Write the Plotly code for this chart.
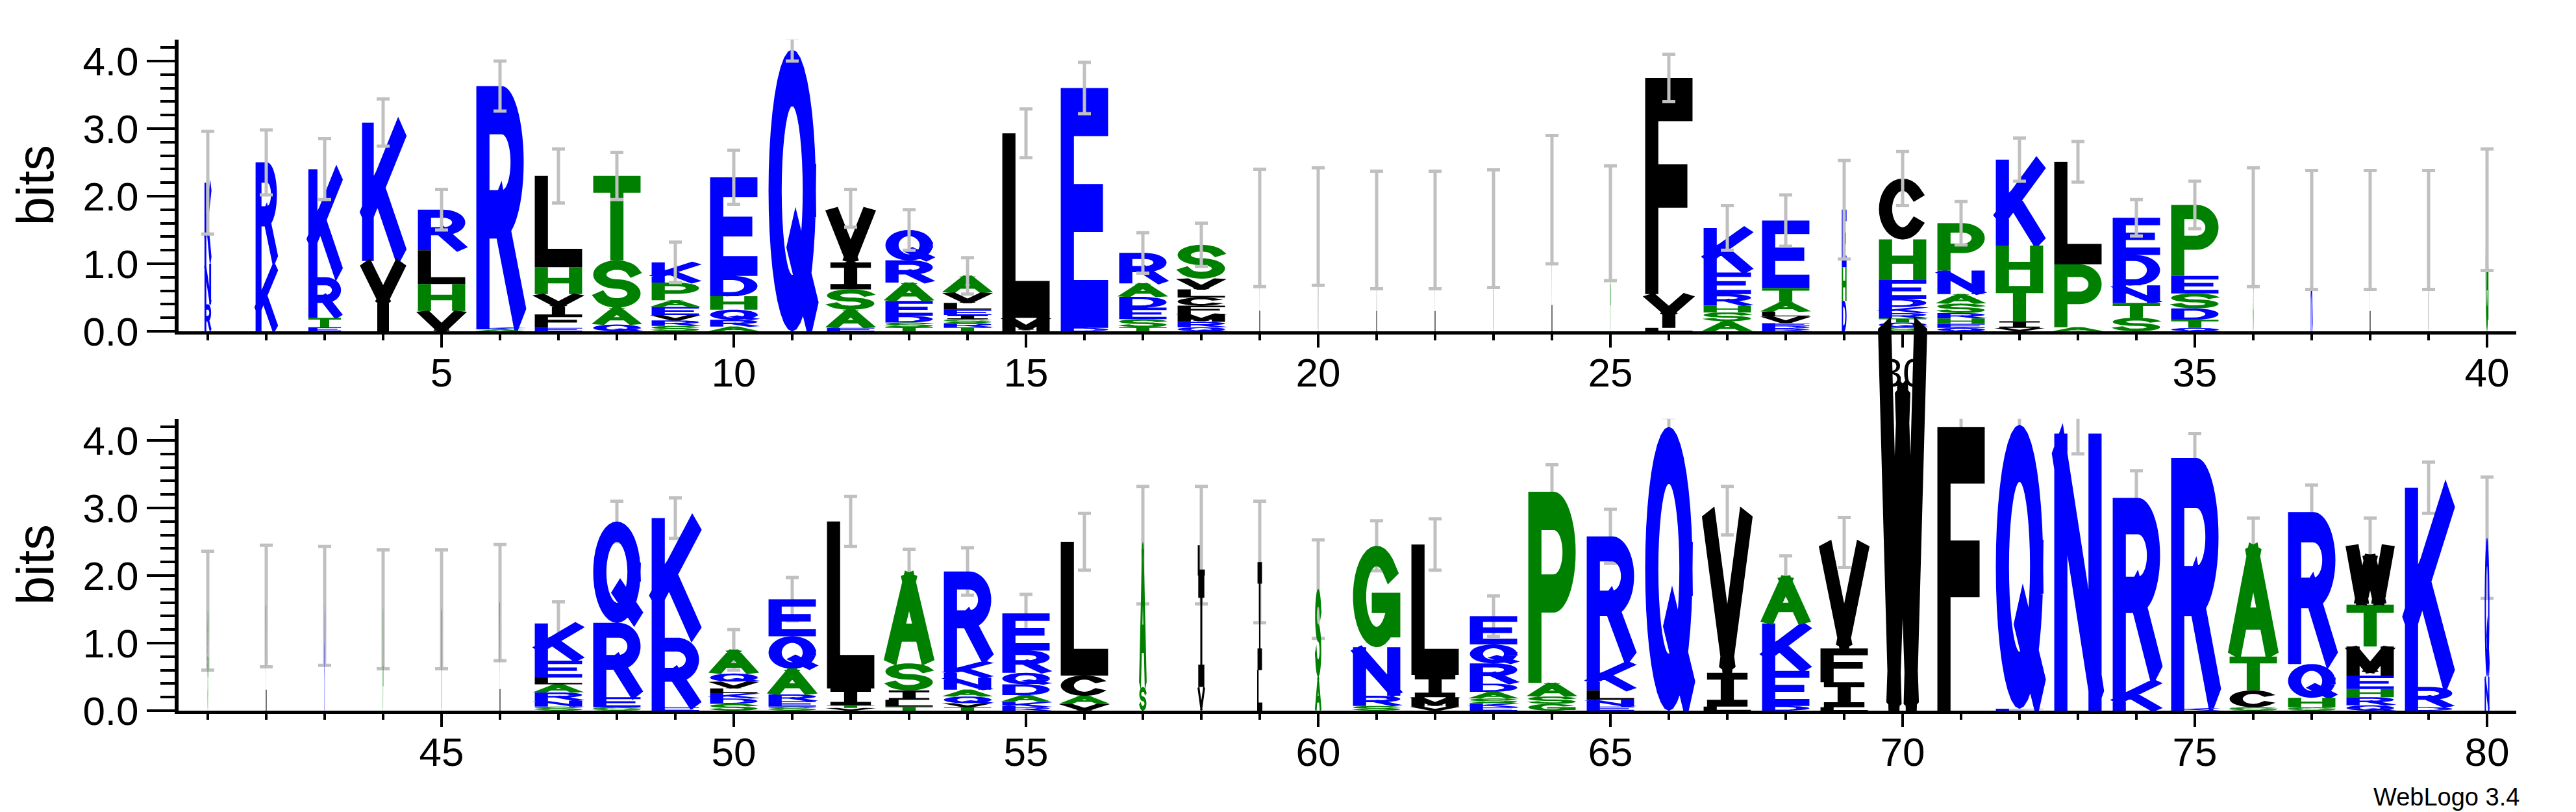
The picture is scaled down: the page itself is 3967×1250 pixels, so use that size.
import math
import plotly.graph_objects as go

# ---- data: one entry per position 1..80, letters listed bottom -> top ----
LETTERS = [
    "RNK", "KR", "ETRK", "YK", "VHLR", "AKR", "EFYHL", "QAST", "SRVEAPK", "ARQHDE",
    "Q", "EASIV", "TSDEARQ", "TRSIELVA", "ML", "DE", "TSEDAR", "QRMFCLVS", "L", "V",
    "I", "L", "V", "L", "A", "LYF", "ASHREK", "RDEVLATE", "DHE", "SQTRKDEHC",
    "QEHRSANP", "VITHK", "APL", "STNDE", "QTDSEP", "S", "K", "L", "V", "G",
    "G", "L", "K", "A", "V", "L", "SNRALEK", "SERQ", "ERK", "SDKLVQA",
    "SERAQE", "VTIL", "TLISA", "TVQANKR", "RKADQRE", "VACL", "SA", "VIL", "LI", "AS",
    "SRNG", "VMIL", "EKSADRQE", "GSAP", "ENLKR", "Q", "LIV", "DEKA", "LIFV", "W",
    "F", "EQ", "N", "KR", "KR", "SCTA", "SHQR", "QRHEMTW", "DRK", "NQ",
]
HEIGHTS = [
    [0.4, 0.6, 1.2], [1.0, 1.5], [0.06, 0.14, 0.6, 1.6], [1.04, 2.05], [0.3, 0.4, 0.5, 0.6],
    [0.03, 0.03, 3.57], [0.05, 0.2, 0.3, 0.4, 1.35], [0.1, 0.25, 0.7, 1.25],
    [0.08, 0.08, 0.08, 0.12, 0.1, 0.26, 0.3], [0.07, 0.1, 0.15, 0.2, 0.3, 1.46],
    [4.17], [0.05, 0.27, 0.3, 0.4, 0.8], [0.06, 0.07, 0.1, 0.22, 0.27, 0.33, 0.45],
    [0.06, 0.06, 0.06, 0.06, 0.08, 0.1, 0.15, 0.25], [0.2, 2.73], [0.05, 3.55],
    [0.06, 0.12, 0.17, 0.16, 0.2, 0.45], [0.06, 0.08, 0.12, 0.12, 0.12, 0.12, 0.16, 0.5],
    [1.53], [1.55], [1.5], [1.5], [1.52], [1.95], [1.6],
    [0.05, 0.5, 3.2], [0.15, 0.13, 0.1, 0.17, 0.32, 0.66],
    [0.04, 0.04, 0.04, 0.1, 0.07, 0.15, 0.2, 1.0], [0.45, 0.5, 0.85],
    [0.06, 0.07, 0.06, 0.08, 0.09, 0.12, 0.28, 0.6, 0.9],
    [0.05, 0.06, 0.08, 0.08, 0.14, 0.14, 0.35, 0.7], [0.05, 0.1, 0.52, 0.6, 1.27],
    [0.06, 0.93, 1.52], [0.2, 0.22, 0.26, 0.45, 0.55], [0.05, 0.12, 0.17, 0.22, 0.26, 1.05],
    [1.54], [1.5], [1.5], [1.5], [1.8],
    [1.48], [1.55], [1.55], [1.5], [1.5], [1.6],
    [0.06, 0.09, 0.12, 0.12, 0.1, 0.25, 0.55], [0.05, 0.15, 1.1, 1.5], [0.05, 1.03, 1.77],
    [0.1, 0.08, 0.08, 0.07, 0.1, 0.12, 0.35], [0.06, 0.08, 0.1, 0.38, 0.48, 0.55],
    [0.04, 0.04, 0.25, 2.47], [0.06, 0.1, 0.14, 0.4, 1.34], [0.05, 0.06, 0.1, 0.1, 0.18, 0.24, 1.33],
    [0.05, 0.08, 0.1, 0.16, 0.17, 0.33, 0.55], [0.1, 0.12, 0.3, 1.98], [0.35, 2.1],
    [0.35, 1.65, 0.45], [0.6, 1.6], [0.5, 1.3],
    [0.07, 0.15, 0.72, 1.5], [0.06, 0.14, 0.33, 1.93], [0.05, 0.06, 0.07, 0.1, 0.12, 0.3, 0.28, 0.42],
    [0.1, 0.11, 0.2, 2.83], [0.06, 0.1, 0.14, 0.42, 1.86], [4.2], [0.06, 0.5, 2.4],
    [0.07, 0.52, 0.7, 0.7], [0.05, 0.37, 0.5, 1.57], [5.75],
    [4.2], [0.03, 4.2], [4.1], [0.45, 2.7], [0.04, 3.7], [0.05, 0.25, 0.5, 1.65],
    [0.05, 0.14, 0.5, 2.25], [0.08, 0.12, 0.12, 0.2, 0.43, 0.62, 0.88], [0.05, 0.3, 2.95], [0.5, 2.06],
]
# relative stack widths (fraction of the full letter width)
WIDTHS = [
    0.14, 0.45, 0.69, 0.89, 1, 1, 1, 1, 1, 1,
    1, 1, 1, 1, 1, 1, 1, 1, 0.015, 0.015,
    0.015, 0.015, 0.015, 0.015, 0.015, 1, 1, 1, 0.1, 1,
    1, 1, 1, 1, 1, 0.015, 0.04, 0.015, 0.015, 0.06,
    0.015, 0.015, 0.015, 0.015, 0.015, 0.015, 1, 1, 1, 1,
    1, 1, 1, 1, 1, 1, 0.15, 0.15, 0.11, 0.13,
    1, 1, 1, 1, 1, 1, 1, 1, 1, 1,
    1, 1, 1, 1, 1, 1, 1, 1, 1, 0.1,
]
ERRORS = [
    0.76, 0.48, 0.45, 0.35, 0.3, 0.37, 0.4, 0.35, 0.3, 0.4,
    0.17, 0.28, 0.3, 0.27, 0.36, 0.38, 0.3, 0.32, 0.87, 0.87,
    0.87, 0.87, 0.87, 0.95, 0.85, 0.35, 0.33, 0.38, 0.73, 0.4,
    0.32, 0.32, 0.3, 0.27, 0.35, 0.88, 0.88, 0.88, 0.88, 0.9,
    0.88, 0.9, 0.88, 0.88, 0.88, 0.86, 0.32, 0.3, 0.3, 0.3,
    0.32, 0.37, 0.35, 0.35, 0.28, 0.42, 0.87, 0.87, 0.9, 0.73,
    0.37, 0.38, 0.3, 0.4, 0.4, 0.14, 0.36, 0.3, 0.37, 0.18,
    0.2, 0.15, 0.3, 0.4, 0.36, 0.4, 0.4, 0.4, 0.38, 0.9,
]
ERR_MID = {70: 4.19}  # error bar centre where it is not the stack top

COLORS = {}
for c in "RKDENQ":
    COLORS[c] = "#0000ff"
for c in "SGHTAP":
    COLORS[c] = "#008000"
for c in "YVMCLFIW":
    COLORS[c] = "#000000"


# ---- simple stroke font, centre lines in a unit box ----
def arc(cx, cy, rx, ry, a0, a1, n=28):
    return [(cx + rx * math.cos(math.radians(a0 + (a1 - a0) * i / n)),
             cy + ry * math.sin(math.radians(a0 + (a1 - a0) * i / n))) for i in range(n + 1)]


GLYPHS = {
    "A": [[(0, 0), (0.5, 1), (1, 0)], [(0.22, 0.3), (0.78, 0.3)]],
    "C": [arc(0.5, 0.5, 0.5, 0.5, 40, 320)],
    "D": [[(0.45, 0), (0, 0), (0, 1), (0.45, 1)] + arc(0.45, 0.5, 0.55, 0.5, 90, -90)],
    "E": [[(1, 1), (0, 1), (0, 0), (1, 0)], [(0, 0.5), (0.85, 0.5)]],
    "F": [[(1, 1), (0, 1), (0, 0)], [(0, 0.5), (0.85, 0.5)]],
    "G": [arc(0.5, 0.5, 0.5, 0.5, 40, 330), [(0.55, 0.42), (1, 0.42), (1, 0.12)]],
    "H": [[(0, 0), (0, 1)], [(1, 0), (1, 1)], [(0, 0.5), (1, 0.5)]],
    "I": [[(0.5, 0), (0.5, 1)], [(0.1, 1), (0.9, 1)], [(0.1, 0), (0.9, 0)]],
    "K": [[(0, 0), (0, 1)], [(1, 1), (0, 0.32)], [(0.32, 0.55), (1, 0)]],
    "L": [[(0, 1), (0, 0), (1, 0)]],
    "M": [[(0, 0), (0, 1), (0.5, 0.12), (1, 1), (1, 0)]],
    "N": [[(0, 0), (0, 1), (1, 0), (1, 1)]],
    "P": [[(0, 0), (0, 1), (0.55, 1)] + arc(0.55, 0.73, 0.45, 0.27, 90, -90) + [(0, 0.46)]],
    "Q": [arc(0.5, 0.5, 0.5, 0.5, 0, 360, 40), [(0.6, 0.25), (1, 0)]],
    "R": [[(0, 0), (0, 1), (0.55, 1)] + arc(0.55, 0.73, 0.45, 0.27, 90, -90) + [(0, 0.46)],
          [(0.5, 0.46), (1, 0)]],
    "S": [arc(0.5, 0.75, 0.5, 0.25, 20, 270) + arc(0.5, 0.25, 0.5, 0.25, 90, -160)],
    "T": [[(0, 1), (1, 1)], [(0.5, 1), (0.5, 0)]],
    "V": [[(0, 1), (0.5, 0), (1, 1)]],
    "W": [[(0, 1), (0.25, 0), (0.5, 0.8), (0.75, 0), (1, 1)]],
    "Y": [[(0, 1), (0.5, 0.45), (1, 1)], [(0.5, 0.45), (0.5, 0)]],
}
GW, GT = 0.72, 0.2  # design width / stroke thickness (height = 1)
FULL = 0.81         # full letter width in position units


def glyph_polys(ch):
    m = GT / 2
    e = GT / 2
    polys = []
    for line in GLYPHS[ch]:
        pts = [(m + u * (GW - 2 * m), m + v * (1 - 2 * m)) for u, v in line]
        pts = [p for i, p in enumerate(pts) if i == 0 or
               abs(p[0] - pts[i - 1][0]) + abs(p[1] - pts[i - 1][1]) > 1e-9]
        dirs = []
        for a, b in zip(pts[:-1], pts[1:]):
            L = math.hypot(b[0] - a[0], b[1] - a[1])
            dirs.append(((b[0] - a[0]) / L, (b[1] - a[1]) / L))
        ext = [e]
        for d1, d2 in zip(dirs[:-1], dirs[1:]):
            cosang = max(-1, min(1, d1[0] * d2[0] + d1[1] * d2[1]))
            ext.append(min(e, e * math.tan(math.acos(cosang) / 2)))
        ext.append(e)
        for i, (a, b) in enumerate(zip(pts[:-1], pts[1:])):
            dx, dy = dirs[i]
            nx, ny = -dy * e, dx * e
            a2 = (a[0] - dx * ext[i], a[1] - dy * ext[i])
            b2 = (b[0] + dx * ext[i + 1], b[1] + dy * ext[i + 1])
            polys.append([(a2[0] - nx, a2[1] - ny), (b2[0] - nx, b2[1] - ny),
                          (b2[0] + nx, b2[1] + ny), (a2[0] + nx, a2[1] + ny)])
    return polys


# ---- figure geometry (pixels) ----
W_PX, H_PX = 3967, 1250
ML, MR, MT, MB = 267, 100, 40, 164
PLOT_H = H_PX - MT - MB
PX_PER_BIT = 104.0
YMAX = 4.32
TOP_BASE = 502  # pixel row of top baseline


def frac(y_px):
    return (H_PX - MB - y_px) / PLOT_H


top_dom = [frac(TOP_BASE), frac(TOP_BASE - YMAX * PX_PER_BIT)]
bot_dom = [0, frac(H_PX - MB - YMAX * PX_PER_BIT)]
let_dom = [0, frac(470)]
let_max = (H_PX - MB - 470) / PX_PER_BIT

fig = go.Figure()
for panel, (xa, ya, ea) in enumerate([("x", "y", "y"), ("x2", "y3", "y2")]):
    xs = {c: [] for c in ("#0000ff", "#008000", "#000000")}
    ys = {c: [] for c in xs}
    ex, ey, ee = [], [], []
    for i in range(panel * 40, panel * 40 + 40):
        pos = i + 1
        wd = FULL * WIDTHS[i]
        y0 = 0.0
        for ch, h in zip(LETTERS[i], HEIGHTS[i]):
            col = COLORS[ch]
            for poly in glyph_polys(ch):
                for (u, v) in poly:
                    xs[col].append(pos + (u / GW - 0.5) * wd)
                    ys[col].append(y0 + v * h)
                xs[col].append(None)
                ys[col].append(None)
            y0 += h
        ex.append(pos)
        ey.append(ERR_MID.get(pos, y0))
        ee.append(ERRORS[i])
    for col in xs:
        fig.add_trace(go.Scatter(x=xs[col], y=ys[col], xaxis=xa, yaxis=ya, mode="lines",
                                 fill="toself", fillcolor=col, line=dict(width=0),
                                 hoverinfo="skip", showlegend=False))
    fig.add_trace(go.Scatter(x=ex, y=ey, xaxis=xa, yaxis=ea, mode="markers",
                             marker=dict(size=1, opacity=0),
                             error_y=dict(type="data", array=ee, color="#c0c0c0",
                                          thickness=5, width=10),
                             hoverinfo="skip", showlegend=False))

tickfont = dict(family="Liberation Sans, Arial", size=62, color="black")
xcommon = dict(showline=True, linewidth=5, linecolor="black", ticks="outside",
               ticklen=20, tickwidth=4, tickcolor="black", tickfont=tickfont,
               showgrid=False, zeroline=False, showticklabels=True, ticklabelstandoff=-14,
               minor=dict(ticks="outside", ticklen=9, tickwidth=4, dtick=1, tickcolor="black"))
ycommon = dict(range=[0, YMAX], showline=True, linewidth=6, linecolor="black",
               ticks="outside", ticklen=43, tickwidth=4, tickcolor="black",
               tickvals=[0, 1, 2, 3, 4], ticktext=["0.0", "1.0", "2.0", "3.0", "4.0"],
               tickfont=tickfont, showgrid=False, zeroline=False,
               title=dict(text="bits", font=dict(family="Liberation Sans, Arial", size=80,
                                                 color="black"), standoff=20),
               minor=dict(ticks="outside", ticklen=22, tickwidth=4, dtick=0.2, tick0=0,
                          tickcolor="black"))

fig.update_layout(
    width=W_PX, height=H_PX,
    margin=dict(l=ML, r=MR, t=MT, b=MB),
    plot_bgcolor="rgba(0,0,0,0)", paper_bgcolor="white",
    xaxis=dict(range=[0.5, 40.5], anchor="y", tickvals=list(range(5, 41, 5)), **xcommon),
    yaxis=dict(domain=top_dom, anchor="x", **ycommon),
    xaxis2=dict(range=[40.5, 80.5], anchor="y2", tickvals=list(range(45, 81, 5)), **xcommon),
    yaxis2=dict(domain=bot_dom, anchor="x2", **ycommon),
    yaxis3=dict(domain=let_dom, anchor="x2", range=[0, let_max], visible=False),
    annotations=[dict(text="WebLogo 3.4", xref="paper", yref="paper", x=1.002, y=-0.127,
                      xanchor="right", yanchor="middle", showarrow=False,
                      font=dict(family="Liberation Sans, Arial", size=38, color="black"))],
)

fig.write_html("out.html")
